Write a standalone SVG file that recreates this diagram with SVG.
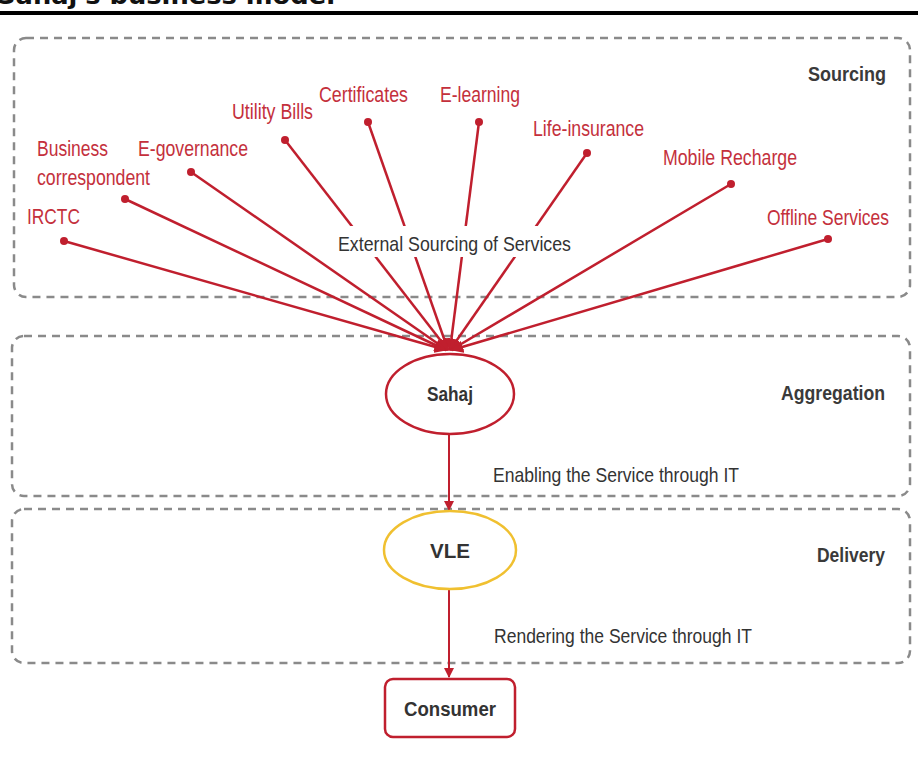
<svg xmlns="http://www.w3.org/2000/svg" width="918" height="769" viewBox="0 0 918 769">
<style>
.band{fill:none;stroke:#8a8a8a;stroke-width:2.5;stroke-dasharray:8 6}
.lbl{font-family:"Liberation Sans",Arial,sans-serif;font-size:22px;fill:#c4303c}
.gray{font-family:"Liberation Sans",Arial,sans-serif;font-size:21px;fill:#333}
.bandlbl{font-family:"Liberation Sans",Arial,sans-serif;font-size:21px;font-weight:bold;fill:#3a3a3a}
.bold{font-family:"Liberation Sans",Arial,sans-serif;font-size:20px;font-weight:bold;fill:#333}
.spoke{stroke:#c01f2e;stroke-width:2.5;fill:none}
.dot{fill:#c01f2e}
.flow{stroke:#c01f2e;stroke-width:2;fill:none}
</style>
<defs>
<marker id="ah" viewBox="0 0 10 10" refX="9" refY="5" markerWidth="5" markerHeight="5" orient="auto" markerUnits="strokeWidth">
<path d="M0,0 L10,5 L0,10 z" fill="#c01f2e"/>
</marker>
</defs>
<rect width="918" height="769" fill="#ffffff"/>
<g id="title">
<text x="-3" y="4" font-family="DejaVu Sans,sans-serif" font-size="24" font-weight="bold" fill="#111" textLength="338" lengthAdjust="spacingAndGlyphs">Sahaj's business model</text>
<rect x="0" y="11" width="918" height="4" fill="#000"/>
</g>
<g id="bands">
<rect id="sourcing-band" class="band" x="14" y="38" width="896" height="259" rx="12"/>
<rect id="aggregation-band" class="band" x="12" y="336" width="898" height="160" rx="12"/>
<rect id="delivery-band" class="band" x="12" y="509" width="898" height="154" rx="12"/>
<text class="bandlbl" x="808" y="81" textLength="78" lengthAdjust="spacingAndGlyphs">Sourcing</text>
<text class="bandlbl" x="781" y="400" textLength="104" lengthAdjust="spacingAndGlyphs">Aggregation</text>
<text class="bandlbl" x="817" y="562" textLength="68" lengthAdjust="spacingAndGlyphs">Delivery</text>
</g>
<g id="connectors">
<line class="spoke" x1="64" y1="241" x2="446" y2="350" marker-end="url(#ah)"/>
<line class="spoke" x1="125" y1="199" x2="446" y2="350" marker-end="url(#ah)"/>
<line class="spoke" x1="191" y1="172" x2="447" y2="350" marker-end="url(#ah)"/>
<line class="spoke" x1="285" y1="140" x2="448" y2="350" marker-end="url(#ah)"/>
<line class="spoke" x1="368" y1="122" x2="448" y2="350" marker-end="url(#ah)"/>
<line class="spoke" x1="479" y1="122" x2="450" y2="350" marker-end="url(#ah)"/>
<line class="spoke" x1="587" y1="153" x2="450" y2="350" marker-end="url(#ah)"/>
<line class="spoke" x1="731" y1="184" x2="451" y2="350" marker-end="url(#ah)"/>
<line class="spoke" x1="828" y1="239" x2="452" y2="350" marker-end="url(#ah)"/>
<line class="flow" x1="449" y1="434" x2="449" y2="510" marker-end="url(#ah)"/>
<line class="flow" x1="449" y1="590" x2="449" y2="677" marker-end="url(#ah)"/>
<rect x="334" y="226" width="242" height="31" fill="#ffffff"/>
<text class="gray" x="338" y="251" textLength="233" lengthAdjust="spacingAndGlyphs">External Sourcing of Services</text>
<text class="gray" x="493" y="482" textLength="246" lengthAdjust="spacingAndGlyphs">Enabling the Service through IT</text>
<text class="gray" x="494" y="643" textLength="258" lengthAdjust="spacingAndGlyphs">Rendering the Service through IT</text>
</g>
<g id="services">
<g id="irctc"><circle class="dot" cx="64" cy="241" r="4"/><text class="lbl" x="27" y="224" textLength="53" lengthAdjust="spacingAndGlyphs">IRCTC</text></g>
<g id="business-correspondent"><circle class="dot" cx="125" cy="199" r="4"/><text class="lbl" x="37" y="156" textLength="71" lengthAdjust="spacingAndGlyphs">Business</text><text class="lbl" x="37" y="185" textLength="113" lengthAdjust="spacingAndGlyphs">correspondent</text></g>
<g id="e-governance"><circle class="dot" cx="191" cy="172" r="4"/><text class="lbl" x="138" y="156" textLength="110" lengthAdjust="spacingAndGlyphs">E-governance</text></g>
<g id="utility-bills"><circle class="dot" cx="285" cy="140" r="4"/><text class="lbl" x="232" y="119" textLength="81" lengthAdjust="spacingAndGlyphs">Utility Bills</text></g>
<g id="certificates"><circle class="dot" cx="368" cy="122" r="4"/><text class="lbl" x="319" y="102" textLength="89" lengthAdjust="spacingAndGlyphs">Certificates</text></g>
<g id="e-learning"><circle class="dot" cx="479" cy="122" r="4"/><text class="lbl" x="440" y="102" textLength="80" lengthAdjust="spacingAndGlyphs">E-learning</text></g>
<g id="life-insurance"><circle class="dot" cx="587" cy="153" r="4"/><text class="lbl" x="533" y="136" textLength="111" lengthAdjust="spacingAndGlyphs">Life-insurance</text></g>
<g id="mobile-recharge"><circle class="dot" cx="731" cy="184" r="4"/><text class="lbl" x="663" y="165" textLength="134" lengthAdjust="spacingAndGlyphs">Mobile Recharge</text></g>
<g id="offline-services"><circle class="dot" cx="828" cy="239" r="4"/><text class="lbl" x="767" y="225" textLength="122" lengthAdjust="spacingAndGlyphs">Offline Services</text></g>
</g>
<g id="sahaj">
<ellipse cx="450" cy="394" rx="64" ry="40" fill="#fff" stroke="#c01f2e" stroke-width="2.5"/>
<text class="bold" x="450" y="401" text-anchor="middle" textLength="46" lengthAdjust="spacingAndGlyphs">Sahaj</text>
</g>
<g id="vle">
<ellipse cx="450" cy="550" rx="66" ry="39" fill="#fff" stroke="#f0c030" stroke-width="2.5"/>
<text class="bold" x="450" y="558" text-anchor="middle" font-size="22" textLength="40" lengthAdjust="spacingAndGlyphs">VLE</text>
</g>
<g id="consumer">
<rect x="385" y="679" width="130" height="58" rx="8" fill="#fff" stroke="#c01f2e" stroke-width="2.5"/>
<text class="bold" x="450" y="716" text-anchor="middle" font-size="21" textLength="92" lengthAdjust="spacingAndGlyphs">Consumer</text>
</g>
</svg>
